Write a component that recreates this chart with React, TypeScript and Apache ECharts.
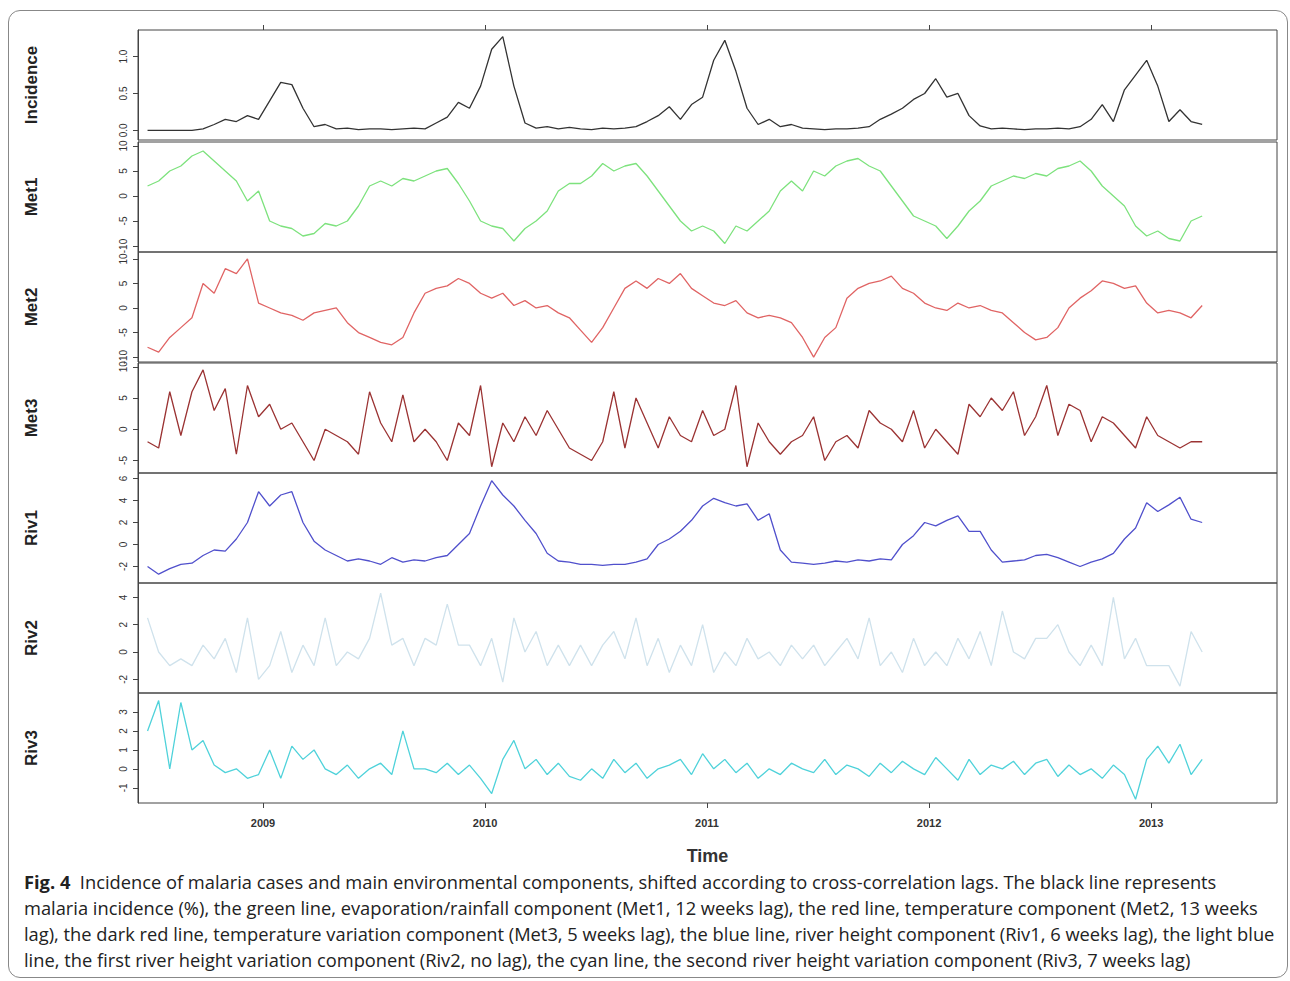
import React, { useEffect, useRef } from 'react';
import * as echarts from 'echarts';

// time index: one sample every 0.05 year from mid-2008
const times = Array.from({ length: 96 }, (_, i) => +(2008.48 + i * 0.05).toFixed(3));
const yearTicks = [2009, 2010, 2011, 2012, 2013];

const incidence = [0, 0, 0, 0, 0, 0.02, 0.08, 0.15, 0.12, 0.2, 0.15, 0.4, 0.65, 0.62, 0.3, 0.05, 0.08, 0.02, 0.03, 0.01, 0.02, 0.02, 0.01, 0.02, 0.03, 0.02, 0.1, 0.18, 0.38, 0.3, 0.6, 1.1, 1.27, 0.6, 0.1, 0.03, 0.05, 0.02, 0.04, 0.02, 0.01, 0.03, 0.02, 0.03, 0.05, 0.12, 0.2, 0.32, 0.15, 0.35, 0.45, 0.95, 1.22, 0.8, 0.3, 0.08, 0.15, 0.05, 0.08, 0.03, 0.02, 0.01, 0.02, 0.02, 0.03, 0.05, 0.15, 0.22, 0.3, 0.42, 0.5, 0.7, 0.45, 0.5, 0.2, 0.06, 0.02, 0.03, 0.02, 0.01, 0.02, 0.02, 0.03, 0.02, 0.05, 0.15, 0.35, 0.12, 0.55, 0.75, 0.95, 0.6, 0.12, 0.28, 0.12, 0.08];
const met1 = [2, 3, 5, 6, 8, 9, 7, 5, 3, -1, 1, -5, -6, -6.5, -8, -7.5, -5.5, -6, -5, -2, 2, 3, 2, 3.5, 3, 4, 5, 5.5, 2.5, -1, -5, -6, -6.5, -9, -6.5, -5, -3, 1, 2.5, 2.5, 4, 6.5, 5, 6, 6.5, 4, 1, -2, -5, -7, -6, -7, -9.5, -6, -7, -5, -3, 1, 3, 1, 5, 4, 6, 7, 7.5, 6, 5, 2, -1, -4, -5, -6, -8.5, -6, -3, -1, 2, 3, 4, 3.5, 4.5, 4, 5.5, 6, 7, 5, 2, 0, -2, -6, -8, -7, -8.5, -9, -5, -4];
const met2 = [-8, -9, -6, -4, -2, 5, 3, 8, 7, 10, 1, 0, -1, -1.5, -2.5, -1, -0.5, 0, -3, -5, -6, -7, -7.5, -6, -1, 3, 4, 4.5, 6, 5, 3, 2, 3, 0.5, 1.5, 0, 0.5, -1, -2, -4.5, -7, -4, 0, 4, 5.5, 4, 6, 5, 7, 4, 2.5, 1, 0.5, 1.5, -1, -2, -1.5, -2, -3, -6, -10, -6, -4, 2, 4, 5, 5.5, 6.5, 4, 3, 1, 0, -0.5, 1, 0, 0.5, -0.5, -1, -3, -5, -6.5, -6, -4, 0, 2, 3.5, 5.5, 5, 4, 4.5, 1, -1, -0.5, -1, -2, 0.5];
const met3 = [-2, -3, 6, -1, 6, 9.5, 3, 6.5, -4, 7, 2, 4, 0, 1, -2, -5, 0, -1, -2, -4, 6, 1, -2, 5.5, -2, 0, -2, -5, 1, -1, 7, -6, 1, -2, 2, -1, 3, 0, -3, -4, -5, -2, 6, -3, 5, 1, -3, 2, -1, -2, 3, -1, 0, 7, -6, 1, -2, -4, -2, -1, 2, -5, -2, -1, -3, 3, 1, 0, -2, 3, -3, 0, -2, -4, 4, 2, 5, 3, 6, -1, 2, 7, -1, 4, 3, -2, 2, 1, -1, -3, 2, -1, -2, -3, -2, -2];
const riv1 = [-2, -2.7, -2.2, -1.8, -1.7, -1, -0.5, -0.6, 0.5, 2, 4.8, 3.5, 4.5, 4.8, 2, 0.3, -0.5, -1, -1.5, -1.3, -1.5, -1.8, -1.2, -1.6, -1.4, -1.5, -1.2, -1, 0, 1, 3.5, 5.8, 4.5, 3.5, 2.2, 1, -0.8, -1.5, -1.6, -1.8, -1.8, -1.9, -1.8, -1.8, -1.6, -1.3, 0, 0.5, 1.2, 2.2, 3.5, 4.2, 3.8, 3.5, 3.7, 2.2, 2.8, -0.5, -1.6, -1.7, -1.8, -1.7, -1.5, -1.6, -1.4, -1.5, -1.3, -1.4, 0, 0.8, 2, 1.7, 2.2, 2.6, 1.2, 1.2, -0.5, -1.6, -1.5, -1.4, -1, -0.9, -1.2, -1.6, -2, -1.6, -1.3, -0.8, 0.5, 1.5, 3.8, 3, 3.6, 4.3, 2.3, 2];
const riv2 = [2.5, 0, -1, -0.5, -1, 0.5, -0.5, 1, -1.5, 2.5, -2, -1, 1.5, -1.5, 0.5, -1, 2.5, -1, 0, -0.5, 1, 4.3, 0.5, 1, -1, 1, 0.5, 3.5, 0.5, 0.5, -1, 1, -2.2, 2.5, 0, 1.5, -1, 0.5, -1, 0.5, -1, 0.5, 1.5, -0.5, 2.5, -1, 1, -1.5, 0.5, -1, 2, -1.5, 0, -1, 1, -0.5, 0, -1, 0.5, -0.5, 0.5, -1, 0, 1, -0.5, 2.5, -1, 0, -1.5, 1, -1, 0, -1, 1, -0.5, 1.5, -1, 3, 0, -0.5, 1, 1, 2, 0, -1, 0.5, -1, 4, -0.5, 1, -1, -1, -1, -2.5, 1.5, 0];
const riv3 = [2, 3.6, 0, 3.5, 1, 1.5, 0.2, -0.2, 0, -0.5, -0.3, 1, -0.5, 1.2, 0.5, 1, 0, -0.3, 0.2, -0.5, 0, 0.3, -0.3, 2, 0, 0, -0.2, 0.3, -0.3, 0.2, -0.5, -1.3, 0.5, 1.5, 0, 0.5, -0.3, 0.3, -0.4, -0.6, 0, -0.5, 0.5, -0.2, 0.3, -0.5, 0, 0.2, 0.5, -0.3, 0.8, 0, 0.5, -0.2, 0.3, -0.5, 0, -0.3, 0.3, 0, -0.2, 0.5, -0.3, 0.2, 0, -0.4, 0.3, -0.2, 0.4, 0, -0.3, 0.6, 0, -0.6, 0.5, -0.3, 0.2, 0, 0.4, -0.3, 0.3, 0.5, -0.4, 0.2, -0.3, 0, -0.5, 0.2, -0.3, -1.6, 0.5, 1.2, 0.3, 1.3, -0.3, 0.5];

const panels = [
  { name: 'Incidence', data: incidence, color: '#333333', min: -0.13, max: 1.36, ticks: [0, 0.5, 1], digits: 1 },
  { name: 'Met1', data: met1, color: '#7de27d', min: -11.2, max: 10.8, ticks: [-10, -5, 0, 5, 10], digits: 0 },
  { name: 'Met2', data: met2, color: '#e06464', min: -11, max: 11.4, ticks: [-10, -5, 0, 5, 10], digits: 0 },
  { name: 'Met3', data: met3, color: '#9b3333', min: -7, max: 10.6, ticks: [-5, 0, 5, 10], digits: 0 },
  { name: 'Riv1', data: riv1, color: '#5050cc', min: -3.5, max: 6.5, ticks: [-2, 0, 2, 4, 6], digits: 0 },
  { name: 'Riv2', data: riv2, color: '#cfe2ec', min: -3, max: 5.05, ticks: [-2, 0, 2, 4], digits: 0 },
  { name: 'Riv3', data: riv3, color: '#4fd2da', min: -1.8, max: 4, ticks: [-1, 0, 1, 2, 3], digits: 0 },
];
const panelTops = [30, 142, 252, 363, 473, 583, 693];
const panelHeight = 110;

const caption = [
  '{b|Fig. 4}  Incidence of malaria cases and main environmental components, shifted according to cross-correlation lags. The black line represents',
  'malaria incidence (%), the green line, evaporation/rainfall component (Met1, 12 weeks lag), the red line, temperature component (Met2, 13 weeks',
  'lag), the dark red line, temperature variation component (Met3, 5 weeks lag), the blue line, river height component (Riv1, 6 weeks lag), the light blue',
  'line, the first river height variation component (Riv2, no lag), the cyan line, the second river height variation component (Riv3, 7 weeks lag)',
];

const App: React.FC = () => {
  const chartRef = useRef<HTMLDivElement>(null);

  useEffect(() => {
    document.body.style.margin = '0';
    if (!chartRef.current) return;
    const chart = echarts.init(chartRef.current, null, { renderer: 'svg' });
    const xMin = 2008.437;
    const xMax = 2013.567;
    const last = panels.length - 1;

    const grid = panels.map((_, i) => ({
      left: 138, right: 13, top: panelTops[i], height: panelHeight,
      show: true, borderColor: '#444', borderWidth: 1,
    }));

    const xAxis: any[] = panels.map((_, i) => ({
      type: 'value', gridIndex: i, min: xMin, max: xMax, position: 'bottom',
      axisLine: { show: false, onZero: false },
      axisTick: { show: i === last, length: 5, customValues: yearTicks, lineStyle: { color: '#444' } },
      axisLabel: {
        show: i === last, customValues: yearTicks, margin: 14,
        fontSize: 11, fontWeight: 'bold', color: '#333', fontFamily: 'Liberation Sans',
        formatter: (v: number) => String(v),
      },
      splitLine: { show: false },
      name: i === last ? 'Time' : '',
      nameLocation: 'middle', nameGap: 44,
      nameTextStyle: { fontSize: 18, fontWeight: 'bold', color: '#333', fontFamily: 'Liberation Sans' },
    }));
    // tick marks along the top of the first panel
    xAxis.push({
      type: 'value', gridIndex: 0, position: 'top', min: xMin, max: xMax,
      axisLine: { show: false, onZero: false },
      axisTick: { show: true, length: 5, customValues: yearTicks, lineStyle: { color: '#444' } },
      axisLabel: { show: false }, splitLine: { show: false },
    });

    const yAxis = panels.map((p, i) => ({
      type: 'value', gridIndex: i, min: p.min, max: p.max,
      axisLine: { show: true, onZero: false, lineStyle: { color: '#444' } },
      axisTick: { show: true, length: 5, customValues: p.ticks, lineStyle: { color: '#444' } },
      axisLabel: {
        customValues: p.ticks, rotate: 90, margin: 10, fontSize: 10, color: '#333',
        fontFamily: 'Liberation Sans',
        formatter: (v: number) => v.toFixed(p.digits),
      },
      splitLine: { show: false },
      name: p.name, nameLocation: 'middle', nameGap: 98,
      nameTextStyle: { fontSize: 17, fontWeight: 'bold', color: '#222', fontFamily: 'Liberation Sans' },
    }));

    const series = panels.map((p, i) => ({
      type: 'line', name: p.name, xAxisIndex: i, yAxisIndex: i,
      data: p.data.map((v, k) => [times[k], v]),
      symbol: 'none', lineStyle: { color: p.color, width: 1.3 },
    }));

    const option: any = {
      animation: false,
      backgroundColor: '#fff',
      grid, xAxis, yAxis, series,
      graphic: caption.map((line, i) => ({
        type: 'text', left: 24, top: 872 + i * 26.3,
        style: {
          text: line, fontSize: 18.3, fill: '#222', fontFamily: 'Open Sans',
          rich: { b: { fontSize: 18.3, fontWeight: 'bold', fill: '#222', fontFamily: 'Open Sans' } },
        },
      })),
    };
    chart.setOption(option);
    return () => chart.dispose();
  }, []);

  return (
    <div style={{ position: 'relative', width: 1290, height: 981 }}>
      <div ref={chartRef} style={{ position: 'absolute', left: 0, top: 0, width: 1290, height: 981 }} />
      <div style={{
        position: 'absolute', left: 8, top: 10, width: 1278, height: 966,
        border: '1px solid #888', borderRadius: 12, pointerEvents: 'none',
      }} />
    </div>
  );
};

export default App;
